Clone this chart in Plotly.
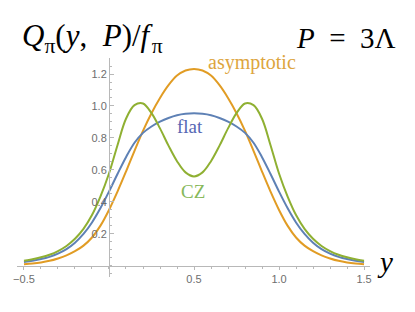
import plotly.graph_objects as go

# x grid (y variable)
y_vals = [-0.5, -0.45, -0.4, -0.35, -0.3, -0.25, -0.2, -0.15, -0.1, -0.05,
          0.0, 0.05, 0.1, 0.15, 0.2, 0.25, 0.3, 0.35, 0.4, 0.45,
          0.5, 0.55, 0.6, 0.65, 0.7, 0.75, 0.8, 0.85, 0.9, 0.95,
          1.0, 1.05, 1.1, 1.15, 1.2, 1.25, 1.3, 1.35, 1.4, 1.45, 1.5]

asymptotic = [0.010, 0.015, 0.022, 0.032, 0.047, 0.066, 0.092, 0.127, 0.178, 0.252,
              0.35, 0.465, 0.59, 0.72, 0.845, 0.955, 1.05, 1.13, 1.19, 1.222,
              1.232, 1.222, 1.19, 1.13, 1.05, 0.955, 0.845, 0.72, 0.59, 0.465,
              0.35, 0.252, 0.178, 0.127, 0.092, 0.066, 0.047, 0.032, 0.022, 0.015, 0.010]

flat = [0.025, 0.033, 0.043, 0.057, 0.077, 0.105, 0.145, 0.20, 0.272, 0.362,
        0.465, 0.575, 0.68, 0.77, 0.832, 0.872, 0.902, 0.925, 0.942, 0.951,
        0.954, 0.951, 0.942, 0.925, 0.902, 0.872, 0.832, 0.77, 0.68, 0.575,
        0.465, 0.362, 0.272, 0.20, 0.145, 0.105, 0.077, 0.057, 0.043, 0.033, 0.025]

cz = [0.033, 0.042, 0.054, 0.070, 0.093, 0.125, 0.17, 0.232, 0.318, 0.435,
      0.578, 0.755, 0.92, 1.005, 1.016, 0.955, 0.86, 0.752, 0.655, 0.585,
      0.56, 0.585, 0.655, 0.752, 0.86, 0.955, 1.016, 1.005, 0.92, 0.755,
      0.578, 0.435, 0.318, 0.232, 0.17, 0.125, 0.093, 0.070, 0.054, 0.042, 0.033]

x_tickvals = [-0.5, 0.5, 1.0, 1.5]
x_ticktext = ["\u22120.5", "0.5", "1.0", "1.5"]
y_tickvals = [0.2, 0.4, 0.6, 0.8, 1.0, 1.2]
y_ticktext = ["0.2", "0.4", "0.6", "0.8", "1.0", "1.2"]

C_BLUE = "#5E81B5"
C_ORANGE = "#E19C24"
C_GREEN = "#8FB032"

fig = go.Figure()
for vals, col in [(asymptotic, C_ORANGE), (flat, C_BLUE), (cz, C_GREEN)]:
    fig.add_trace(go.Scatter(x=y_vals, y=vals, mode="lines",
                             line=dict(color=col, width=2, shape="spline", smoothing=1.0),
                             showlegend=False, hoverinfo="skip"))

xr = [-0.541, 1.535]
yr = [-0.069, 1.3]
xpos_of_yaxis = (0 - xr[0]) / (xr[1] - xr[0])
ypos_of_xaxis = (0 - yr[0]) / (yr[1] - yr[0])

axcol = "#b8b8b8"
tickfont = dict(family="Liberation Sans, Arial, sans-serif", size=11, color="#6e6e6e")

# page body has an 8px default margin, so the figure is 8px smaller
fig.update_layout(
    width=407, height=304,
    margin=dict(l=9, r=45, t=50, b=35, autoexpand=False),
    paper_bgcolor="white", plot_bgcolor="white",
    xaxis=dict(range=xr, anchor="free", position=ypos_of_xaxis,
               showline=True, linecolor=axcol, linewidth=1,
               showgrid=False, zeroline=False, automargin=False,
               ticks="outside", ticklen=3, tickcolor=axcol, tickwidth=1,
               tickvals=x_tickvals, ticktext=x_ticktext, tickfont=tickfont,
               minor=dict(dtick=0.1, tick0=0, ticks="outside", ticklen=2, tickcolor=axcol)),
    yaxis=dict(range=yr, anchor="free", position=xpos_of_yaxis,
               showline=True, linecolor=axcol, linewidth=1,
               showgrid=False, zeroline=False, automargin=False,
               ticks="inside", ticklen=4, tickcolor=axcol, tickwidth=1,
               tickvals=y_tickvals, ticktext=y_ticktext, tickfont=tickfont,
               minor=dict(dtick=0.05, tick0=0, ticks="inside", ticklen=2, tickcolor=axcol)),
)

serif = "Liberation Serif, DejaVu Serif, serif"
# paper coords: plot area is 353 x 219 px
paper_anns = [
    dict(x=0.0085, y=1.093, xanchor="left", yanchor="middle",
         text="<i>Q</i><sub>\u03c0</sub>(<i>y</i>,\u2002<i>P</i>)/<i>f</i>\u200a<sub>\u03c0</sub>",
         font=dict(family=serif, size=31, color="black")),
    dict(x=1.079, y=1.093, xanchor="right", yanchor="middle",
         text="<i>P</i>\u2002=\u20023\u039b",
         font=dict(family=serif, size=29, color="black")),
    dict(x=1.0425, y=0.07, xanchor="center", yanchor="middle", text="<i>y</i>",
         font=dict(family=serif, size=29, color="black")),
]
for a in paper_anns:
    a.update(xref="paper", yref="paper", showarrow=False)
    fig.add_annotation(**a)

data_anns = [
    dict(x=0.841, y=1.275, text="asymptotic",
         font=dict(family=serif, size=20, color="#DDA53E")),
    dict(x=0.476, y=0.869, text="flat",
         font=dict(family=serif, size=19, color="#5566B3")),
    dict(x=0.494, y=0.4625, text="CZ",
         font=dict(family=serif, size=19, color="#86B85A")),
]
for a in data_anns:
    a.update(xref="x", yref="y", xanchor="center", yanchor="middle", showarrow=False)
    fig.add_annotation(**a)

fig.write_html("out.html")
